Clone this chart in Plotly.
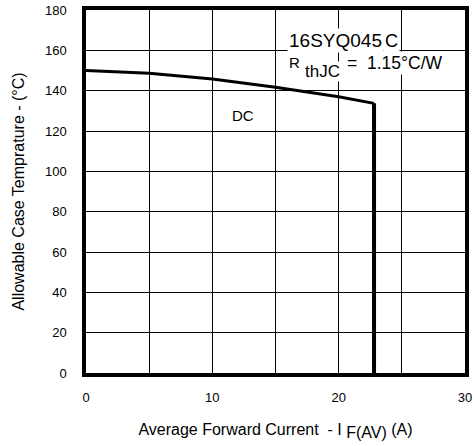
import plotly.graph_objects as go

current = [0, 5, 10, 15, 20, 22.8]
case_temp = [150, 148.6, 145.8, 141.7, 137, 133.7]
drop_current = [22.8, 22.8]
drop_temp = [133.7, 0]
x_ticks = [0, 10, 20, 30]
y_ticks = [0, 20, 40, 60, 80, 100, 120, 140, 160, 180]

FONT = "Liberation Sans, Arial, sans-serif"

fig = go.Figure()
fig.add_trace(go.Scatter(x=current, y=case_temp, mode="lines",
                         line=dict(color="black", width=3), showlegend=False))
fig.add_trace(go.Scatter(x=drop_current, y=drop_temp, mode="lines",
                         line=dict(color="black", width=4), showlegend=False))

fig.update_layout(
    width=474, height=446,
    margin=dict(l=86, r=8.5, t=10, b=73, autoexpand=False),
    paper_bgcolor="white", plot_bgcolor="white",
    font=dict(family=FONT, color="black", size=13),
    xaxis=dict(range=[0, 30], tickvals=x_ticks, showgrid=True, automargin=False,
               gridcolor="black", gridwidth=1,
               minor=dict(dtick=5, showgrid=True, gridcolor="black", gridwidth=1),
               showline=True, linecolor="black", linewidth=3.5, mirror=True,
               ticks="", ticklabelstandoff=10, zeroline=False,
               tickfont=dict(size=13),
               title=dict(text="Average Forward Current  - I <sub><span style='font-size:16px'>F(AV)</span></sub> (A)",
                          font=dict(size=16), standoff=20)),
    yaxis=dict(range=[0, 180], tickvals=y_ticks, showgrid=True, automargin=False,
               gridcolor="black", gridwidth=1,
               showline=True, linecolor="black", linewidth=3.5, mirror=True,
               ticks="", ticklabelstandoff=13, zeroline=False,
               tickfont=dict(size=13),
               title=dict(text="Allowable Case Temprature - (°C)",
                          font=dict(size=16), standoff=17.5)),
)

def px_x(px):
    return (px - 86) / 379.5

def px_y(py):
    return (373 - py) / 363

fig.add_annotation(text="16SYQ045", xref="paper", yref="paper",
                   x=px_x(287), y=px_y(41), xanchor="left", yanchor="middle",
                   showarrow=False, bgcolor="white", font=dict(size=19), borderpad=1)
fig.add_annotation(text="C", xref="paper", yref="paper",
                   x=px_x(383), y=px_y(41), xanchor="left", yanchor="middle",
                   showarrow=False, bgcolor="white", font=dict(size=18), borderpad=1)
fig.add_annotation(text="R", xref="paper", yref="paper",
                   x=px_x(287), y=px_y(62), xanchor="left", yanchor="middle",
                   showarrow=False, bgcolor="white", font=dict(size=15), borderpad=1)
fig.add_annotation(text="thJC", xref="paper", yref="paper",
                   x=px_x(304), y=px_y(71), xanchor="left", yanchor="middle",
                   showarrow=False, bgcolor="white", font=dict(size=17), borderpad=0)
fig.add_annotation(text="=  1.15°C/W", xref="paper", yref="paper",
                   x=px_x(345), y=px_y(63), xanchor="left", yanchor="middle",
                   showarrow=False, bgcolor="white", font=dict(size=17.5), borderpad=1)
fig.add_annotation(text="DC", xref="paper", yref="paper",
                   x=px_x(243), y=px_y(115), xanchor="center", yanchor="middle",
                   showarrow=False, font=dict(size=15))

fig.write_html("out.html", config={"displayModeBar": False},
               post_script="document.body.style.margin='0px';document.body.style.overflow='hidden';")
